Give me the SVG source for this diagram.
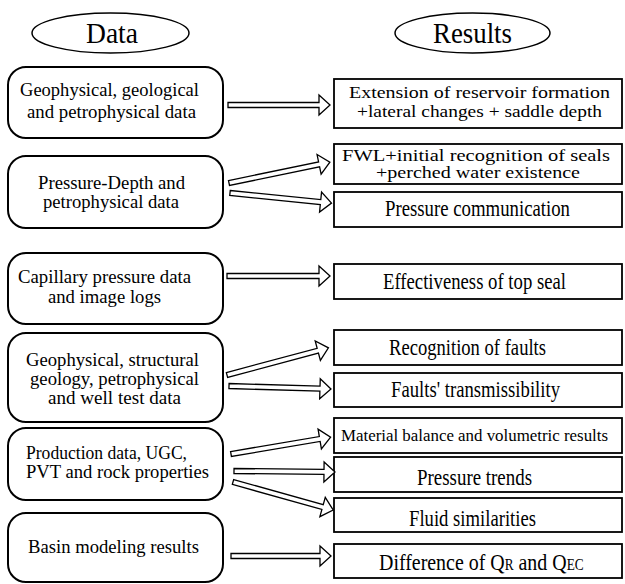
<svg xmlns="http://www.w3.org/2000/svg" width="625" height="584" viewBox="0 0 625 584" font-family="'Liberation Serif', serif">
<style>
text{font-family:'Liberation Serif','Times New Roman',serif;fill:#000}
.hd{font-size:30px}
.lt{font-size:18px}
.st{font-size:17px}
.bt{font-size:24px}
.sm{font-size:16px}
.ell{fill:#fff;stroke:#000;stroke-width:1.5}
.lbox{fill:#fff;stroke:#000;stroke-width:2}
.rbox{fill:#fff;stroke:#000;stroke-width:1.8}
.arr{fill:#fff;stroke:#000;stroke-width:1.3;stroke-linejoin:miter}
</style>
<rect width="625" height="584" fill="#fff"/>
<g id="hdr-data"><ellipse class="ell" cx="110.5" cy="33" rx="78.5" ry="20"/><text class="hd" x="86" y="43" textLength="52" lengthAdjust="spacingAndGlyphs">Data</text></g>
<g id="hdr-results"><ellipse class="ell" cx="472.5" cy="33" rx="77.5" ry="20"/><text class="hd" x="433" y="43" textLength="79" lengthAdjust="spacingAndGlyphs">Results</text></g>

<g id="d1"><rect class="lbox" x="8" y="67" width="215" height="71" rx="18"/>
<text class="lt" x="20" y="96" textLength="179" lengthAdjust="spacingAndGlyphs">Geophysical, geological</text>
<text class="lt" x="27" y="118" textLength="169" lengthAdjust="spacingAndGlyphs">and petrophysical data</text></g>
<g id="d2"><rect class="lbox" x="8" y="156" width="215" height="72" rx="18"/>
<text class="lt" x="38" y="189" textLength="147" lengthAdjust="spacingAndGlyphs">Pressure-Depth and</text>
<text class="lt" x="43" y="208" textLength="136" lengthAdjust="spacingAndGlyphs">petrophysical data</text></g>
<g id="d3"><rect class="lbox" x="8" y="253" width="215" height="71" rx="18"/>
<text class="lt" x="18" y="283" textLength="173" lengthAdjust="spacingAndGlyphs">Capillary pressure data</text>
<text class="lt" x="48" y="303" textLength="113" lengthAdjust="spacingAndGlyphs">and image logs</text></g>
<g id="d4"><rect class="lbox" x="8" y="333" width="215" height="89" rx="18"/>
<text class="lt" x="26" y="366" textLength="173" lengthAdjust="spacingAndGlyphs">Geophysical, structural</text>
<text class="lt" x="30" y="385" textLength="169" lengthAdjust="spacingAndGlyphs">geology, petrophysical</text>
<text class="lt" x="48" y="404" textLength="133" lengthAdjust="spacingAndGlyphs">and well test data</text></g>
<g id="d5"><rect class="lbox" x="8" y="428" width="215" height="72" rx="18"/>
<text class="lt" x="26" y="459" textLength="161" lengthAdjust="spacingAndGlyphs">Production data, UGC,</text>
<text class="lt" x="26" y="478" textLength="183" lengthAdjust="spacingAndGlyphs">PVT and rock properties</text></g>
<g id="d6"><rect class="lbox" x="8" y="513" width="215" height="69" rx="18"/>
<text class="lt" x="28" y="553" textLength="171" lengthAdjust="spacingAndGlyphs">Basin modeling results</text></g>

<g id="r1"><rect class="rbox" x="334" y="79" width="288" height="49"/>
<text class="st" x="349" y="98" textLength="261" lengthAdjust="spacingAndGlyphs">Extension of reservoir formation</text>
<text class="st" x="357" y="117" textLength="245" lengthAdjust="spacingAndGlyphs">+lateral changes + saddle depth</text></g>
<g id="r2"><rect class="rbox" x="334" y="144" width="288" height="40"/>
<text class="st" x="342" y="161" textLength="268" lengthAdjust="spacingAndGlyphs" style="font-size:16px">FWL+initial recognition of seals</text>
<text class="st" x="376" y="178" textLength="204" lengthAdjust="spacingAndGlyphs" style="font-size:16px">+perched water existence</text></g>
<g id="r3"><rect class="rbox" x="334" y="192" width="288" height="35"/>
<text class="bt" x="385" y="216" textLength="185" lengthAdjust="spacingAndGlyphs">Pressure communication</text></g>
<g id="r4"><rect class="rbox" x="334" y="264" width="288" height="35"/>
<text class="bt" x="383" y="289" textLength="183" lengthAdjust="spacingAndGlyphs">Effectiveness of top seal</text></g>
<g id="r5"><rect class="rbox" x="334" y="330" width="288" height="35"/>
<text class="bt" x="389" y="355" textLength="157" lengthAdjust="spacingAndGlyphs">Recognition of faults</text></g>
<g id="r6"><rect class="rbox" x="334" y="373" width="288" height="34"/>
<text class="bt" x="391" y="397" textLength="169" lengthAdjust="spacingAndGlyphs">Faults' transmissibility</text></g>
<g id="r7"><rect class="rbox" x="334" y="418" width="288" height="35"/>
<text class="st" x="341" y="441" textLength="267" lengthAdjust="spacingAndGlyphs" style="font-size:16px">Material balance and volumetric results</text></g>
<g id="r8"><rect class="rbox" x="334" y="457" width="288" height="35"/>
<text class="bt" x="417" y="485" textLength="115" lengthAdjust="spacingAndGlyphs">Pressure trends</text></g>
<g id="r9"><rect class="rbox" x="334" y="498" width="288" height="34"/>
<text class="bt" x="409" y="526" textLength="127" lengthAdjust="spacingAndGlyphs">Fluid similarities</text></g>
<g id="r10"><rect class="rbox" x="334" y="544" width="288" height="34"/>
<text class="bt" transform="translate(379,570) scale(0.83,1)">Difference of Q<tspan class="sm">R</tspan> and Q<tspan class="sm">EC</tspan></text></g>

<g id="connectors">
<polygon class="arr" transform="translate(228,105)" points="0,-2.5 91,-2.5 91,-10 102,0 91,10 91,2.5 0,2.5"/>
<polygon class="arr" transform="translate(229,183) rotate(-11.7)" points="0,-2.5 92,-2.5 92,-10 103,0 92,10 92,2.5 0,2.5"/>
<polygon class="arr" transform="translate(230,193) rotate(5.7)" points="0,-2.5 91,-2.5 91,-10 102,0 91,10 91,2.5 0,2.5"/>
<polygon class="arr" transform="translate(227,276)" points="0,-2.5 92,-2.5 92,-10 103,0 92,10 92,2.5 0,2.5"/>
<polygon class="arr" transform="translate(227,375) rotate(-15)" points="0,-2.5 94,-2.5 94,-10 105,0 94,10 94,2.5 0,2.5"/>
<polygon class="arr" transform="translate(229,386) rotate(1.7)" points="0,-2.5 91,-2.5 91,-10 102,0 91,10 91,2.5 0,2.5"/>
<polygon class="arr" transform="translate(231,454) rotate(-9.6)" points="0,-2.5 90,-2.5 90,-10 101,0 90,10 90,2.5 0,2.5"/>
<polygon class="arr" transform="translate(234,471) rotate(0.6)" points="0,-2.5 90,-2.5 90,-10 101,0 90,10 90,2.5 0,2.5"/>
<polygon class="arr" transform="translate(233,482) rotate(15.6)" points="0,-2.5 93,-2.5 93,-10 104,0 93,10 93,2.5 0,2.5"/>
<polygon class="arr" transform="translate(231,556)" points="0,-2.5 89,-2.5 89,-10 100,0 89,10 89,2.5 0,2.5"/>
</g>
</svg>
